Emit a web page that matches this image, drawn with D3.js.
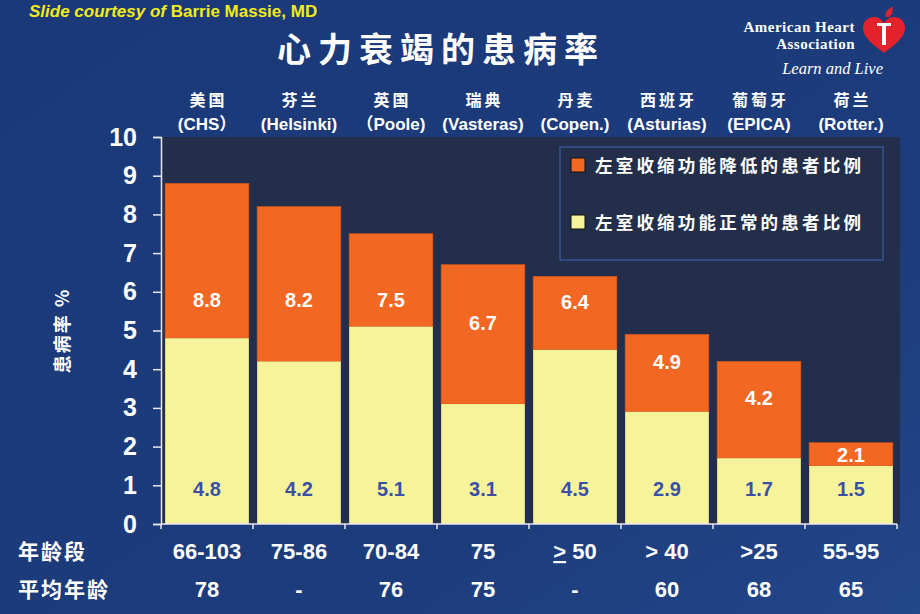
<!DOCTYPE html>
<html>
<head>
<meta charset="utf-8">
<script src="https://cdn.jsdelivr.net/npm/d3@7"></script>
<style>
  html, body { margin: 0; padding: 0; background: #1c3a78; }
  svg { display: block; }
</style>
</head>
<body>
<div id="chart"></div>
<script>
// 数据
const countries = ['美国', '芬兰', '英国', '瑞典', '丹麦', '西班牙', '葡萄牙', '荷兰']
const studies = ['(CHS）', '(Helsinki)', '（Poole)', '(Vasteras)', '(Copen.)', '(Asturias)', '(EPICA)', '(Rotter.)']
const totalRate = [8.8, 8.2, 7.5, 6.7, 6.4, 4.9, 4.2, 2.1]   // 总患病率 (橙色顶部)
const normalRate = [4.8, 4.2, 5.1, 3.1, 4.5, 2.9, 1.7, 1.5]  // 收缩功能正常 (黄色)
const ageRange = ['66-103', '75-86', '70-84', '75', '≥ 50', '> 40', '>25', '55-95']
const meanAge = ['78', '-', '76', '75', '-', '60', '68', '65']
const yTicks = [0, 1, 2, 3, 4, 5, 6, 7, 8, 9, 10]
const legendLabels = ['左室收缩功能降低的患者比例', '左室收缩功能正常的患者比例']

const width = 920
const height = 614
const orange = '#f26722'
const yellow = '#f7f39a'
const plotBg = '#232f4a'
const font = 'Arial, "Liberation Sans", "Noto Sans CJK SC", sans-serif'
const cjk = '"Noto Sans CJK SC", Arial, sans-serif'

const svg = d3.select('#chart').append('svg')
  .attr('width', width)
  .attr('height', height)

// 背景渐变
const defs = svg.append('defs')
const grad = defs.append('linearGradient')
  .attr('id', 'bg').attr('x1', 0).attr('y1', 0).attr('x2', 1).attr('y2', 1)
grad.append('stop').attr('offset', '0%').attr('stop-color', '#1b3978')
grad.append('stop').attr('offset', '70%').attr('stop-color', '#1d3c7c')
grad.append('stop').attr('offset', '100%').attr('stop-color', '#22478a')
svg.append('rect').attr('width', width).attr('height', height).attr('fill', 'url(#bg)')

// 比例尺
const x = d3.scaleBand()
  .domain(d3.range(countries.length))
  .range([161, 897])
  .paddingInner(0.09)
  .paddingOuter(0.045)

const y = d3.scaleLinear().domain([0, 10]).range([524, 137])

// 绘图区背景
svg.append('rect')
  .attr('x', 161).attr('y', y(10))
  .attr('width', 900 - 161).attr('height', y(0) - y(10))
  .attr('fill', plotBg)

// 柱子：黄色在下，橙色在上
const bars = svg.append('g')
bars.selectAll('rect.top')
  .data(totalRate)
  .join('rect')
  .attr('class', 'top')
  .attr('x', (d, i) => x(i))
  .attr('width', x.bandwidth())
  .attr('y', (d) => y(d))
  .attr('height', (d, i) => y(normalRate[i]) - y(d))
  .attr('fill', orange)
  .attr('stroke', '#d9561a')
  .attr('stroke-width', 0.6)

bars.selectAll('rect.bottom')
  .data(normalRate)
  .join('rect')
  .attr('class', 'bottom')
  .attr('x', (d, i) => x(i))
  .attr('width', x.bandwidth())
  .attr('y', (d) => y(d))
  .attr('height', (d) => y(0) - y(d))
  .attr('fill', yellow)

// 数值标签
const labelPos = (d, i) => Math.min(5.8, (d + normalRate[i]) / 2 + 0.3, d - 0.3)
bars.selectAll('text.total')
  .data(totalRate)
  .join('text')
  .attr('class', 'total')
  .attr('x', (d, i) => x(i) + x.bandwidth() / 2)
  .attr('y', (d, i) => y(labelPos(d, i)))
  .attr('dy', '0.36em')
  .attr('text-anchor', 'middle')
  .attr('fill', 'white')
  .style('font', `bold 20px ${font}`)
  .text((d) => d.toFixed(1))

bars.selectAll('text.normal')
  .data(normalRate)
  .join('text')
  .attr('class', 'normal')
  .attr('x', (d, i) => x(i) + x.bandwidth() / 2)
  .attr('y', y(0.92))
  .attr('dy', '0.36em')
  .attr('text-anchor', 'middle')
  .attr('fill', '#3a50a6')
  .style('font', `bold 20px ${font}`)
  .text((d) => d.toFixed(1))

// y 轴
const yAxis = svg.append('g')
  .attr('transform', 'translate(161,0)')
  .call(d3.axisLeft(y).tickValues(yTicks).tickSize(8).tickPadding(16))
yAxis.select('.domain').attr('stroke', '#e8e8f0').attr('stroke-width', 1.5)
yAxis.selectAll('.tick line').attr('stroke', '#e8e8f0').attr('stroke-width', 1.5)
yAxis.selectAll('.tick text')
  .attr('fill', 'white')
  .style('font', `bold 25px ${font}`)

// x 轴线（分隔刻度）
svg.append('line')
  .attr('x1', 161).attr('x2', 897)
  .attr('y1', y(0)).attr('y2', y(0))
  .attr('stroke', '#e8e8f0').attr('stroke-width', 1.5)
svg.append('g')
  .selectAll('line')
  .data(d3.range(countries.length + 1))
  .join('line')
  .attr('x1', (d) => 161 + d * x.step())
  .attr('x2', (d) => 161 + d * x.step())
  .attr('y1', y(0)).attr('y2', y(0) + 5)
  .attr('stroke', '#e8e8f0').attr('stroke-width', 1.5)

// y 轴标题
svg.append('text')
  .attr('transform', `translate(69,${y(5.0)}) rotate(-90)`)
  .attr('text-anchor', 'middle')
  .attr('fill', 'white')
  .attr('letter-spacing', 2)
  .style('font', `bold 18px ${cjk}`)
  .text('患病率 %')

// 顶部分类标签
const cat = svg.append('g')
cat.selectAll('text.cn')
  .data(countries)
  .join('text')
  .attr('class', 'cn')
  .attr('x', (d, i) => x(i) + x.bandwidth() / 2 + 1.5)
  .attr('y', 106)
  .attr('text-anchor', 'middle')
  .attr('fill', 'white')
  .attr('letter-spacing', 3)
  .style('font', `bold 16px ${cjk}`)
  .text((d) => d)
cat.selectAll('text.en')
  .data(studies)
  .join('text')
  .attr('class', 'en')
  .attr('x', (d, i) => x(i) + x.bandwidth() / 2)
  .attr('y', 130)
  .attr('text-anchor', 'middle')
  .attr('fill', 'white')
  .style('font', `bold 17px ${font}`)
  .text((d) => d)

// 底部两行
const rowFont = `bold 22px ${font}`
svg.append('text').attr('x', 18).attr('y', 559).attr('fill', 'white')
  .attr('letter-spacing', 2)
  .style('font', `bold 21px ${cjk}`).text('年龄段')
svg.append('text').attr('x', 18).attr('y', 597).attr('fill', 'white')
  .attr('letter-spacing', 2)
  .style('font', `bold 21px ${cjk}`).text('平均年龄')

svg.append('g').selectAll('text')
  .data(ageRange)
  .join('text')
  .attr('x', (d, i) => x(i) + x.bandwidth() / 2)
  .attr('y', 559)
  .attr('text-anchor', 'middle')
  .attr('fill', 'white')
  .style('font', rowFont)
  .each(function(d) {
    const t = d3.select(this)
    if (d.startsWith('≥')) {
      t.append('tspan').attr('text-decoration', 'underline').text('>')
      t.append('tspan').text(d.slice(1))
    } else {
      t.text(d)
    }
  })

svg.append('g').selectAll('text')
  .data(meanAge)
  .join('text')
  .attr('x', (d, i) => x(i) + x.bandwidth() / 2)
  .attr('y', 597)
  .attr('text-anchor', 'middle')
  .attr('fill', 'white')
  .style('font', rowFont)
  .text((d) => d)

// 图例
const legend = svg.append('g')
legend.append('rect')
  .attr('x', 560).attr('y', 147).attr('width', 323).attr('height', 113)
  .attr('fill', plotBg).attr('stroke', '#3d5aa6').attr('stroke-width', 1.2)
const legendColors = [orange, yellow]
legendLabels.forEach((t, i) => {
  const ly = 166 + i * 57
  legend.append('rect')
    .attr('x', 571).attr('y', ly - 8).attr('width', 14).attr('height', 14)
    .attr('fill', legendColors[i]).attr('stroke', '#111').attr('stroke-width', 1)
  legend.append('text')
    .attr('x', 595).attr('y', ly).attr('dy', '0.36em')
    .attr('fill', 'white')
    .attr('letter-spacing', 3.2)
    .style('font', `bold 17.5px ${cjk}`)
    .text(t)
})

// 标题
svg.append('text')
  .attr('x', 441).attr('y', 62)
  .attr('text-anchor', 'middle')
  .attr('fill', 'white')
  .attr('letter-spacing', 7)
  .style('font', `bold 34px ${cjk}`)
  .text('心力衰竭的患病率')

// 来源
const src = svg.append('text')
  .attr('x', 29).attr('y', 17)
  .attr('fill', '#f2ea1c')
  .style('font', `bold 17px ${font}`)
src.append('tspan').style('font-style', 'italic').text('Slide courtesy of ')
src.append('tspan').text('Barrie Massie, MD')

// AHA 标志
const logo = svg.append('g')
const serif = '"Liberation Serif", "DejaVu Serif", serif'
logo.append('text').attr('x', 855).attr('y', 32).attr('text-anchor', 'end')
  .attr('fill', 'white').attr('letter-spacing', 0.5)
  .style('font', `bold 15px ${serif}`).text('American Heart')
logo.append('text').attr('x', 855).attr('y', 49).attr('text-anchor', 'end')
  .attr('fill', 'white').attr('letter-spacing', 0.5)
  .style('font', `bold 15px ${serif}`).text('Association')
logo.append('text').attr('x', 883).attr('y', 74).attr('text-anchor', 'end')
  .attr('fill', 'white').style('font', `italic 16.5px ${serif}`).text('Learn and Live')
logo.append('path')
  .attr('d', 'M884,53 C875,46 863,38 863,28 C863,21 868,17 874,17 C879,17 882,20 884,23 C886,20 889,17 894,17 C900,17 905,21 905,28 C905,38 893,46 884,53 Z')
  .attr('fill', '#e3222b')
logo.append('path')
  .attr('d', 'M886,17 C884,12 889,9 893,6 C892,10 894,13 889,17 Z')
  .attr('fill', '#e3222b')
logo.append('path')
  .attr('d', 'M877,23 L891,23 L891,26 L886,26 L886,45 L882,45 L882,26 L877,26 Z')
  .attr('fill', 'white')
</script>
</body>
</html>
